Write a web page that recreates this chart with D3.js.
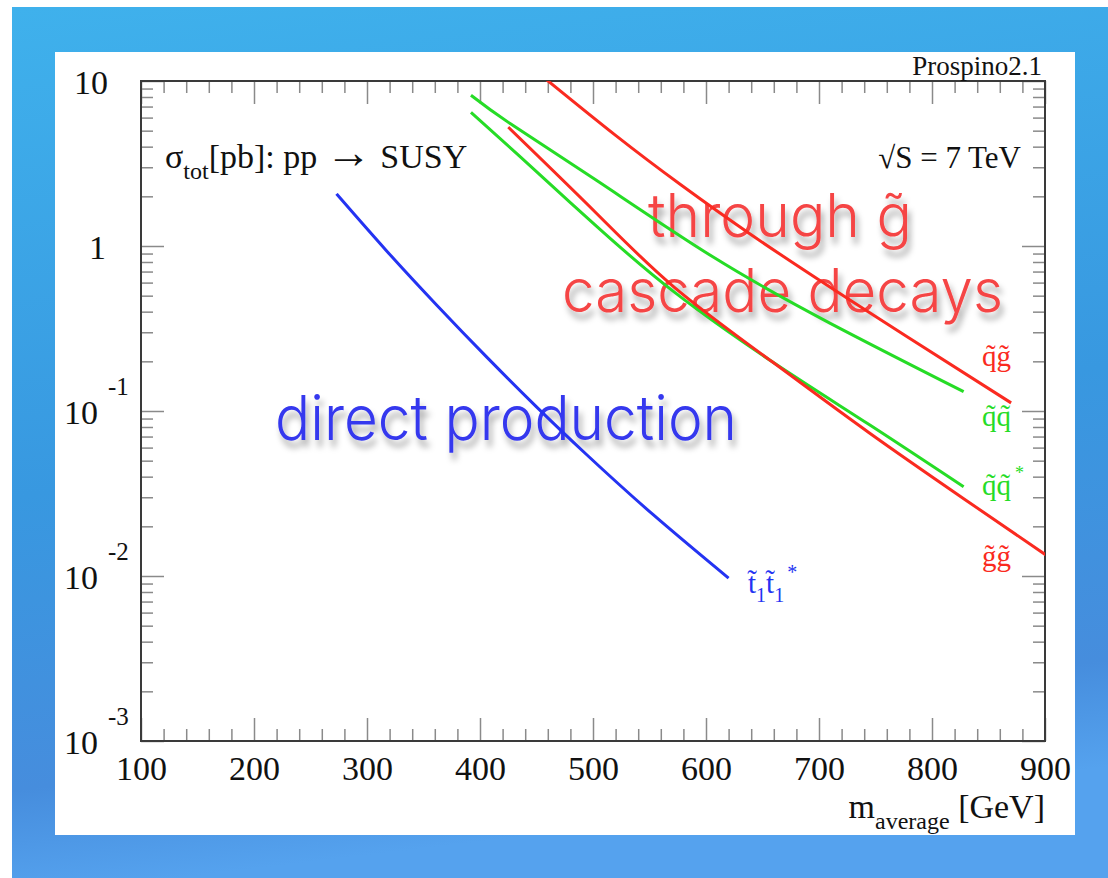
<!DOCTYPE html>
<html>
<head>
<meta charset="utf-8">
<script src="https://cdn.jsdelivr.net/npm/d3@7"></script>
<style>
  html, body { margin: 0; padding: 0; background: #ffffff; }
  svg { display: block; }
</style>
</head>
<body>
<svg id="chart" width="1108" height="878"></svg>
<script>
// ---- data: total SUSY production cross sections at sqrt(S) = 7 TeV ----
// mass in GeV, cross section in pb
const stopMass   = [273, 317, 362, 406, 450, 494, 553, 620];
const stopSigma  = [2.07, 0.94, 0.436, 0.212, 0.106, 0.0547, 0.0236, 0.0097];

const sqglMass   = [455, 520, 578, 640, 710, 778, 870];
const sqglSigma  = [10.7, 4.68, 2.34, 1.17, 0.562, 0.282, 0.112];

const sqsqMass   = [392, 427, 503, 606, 710, 828];
const sqsqSigma  = [8.2, 5.5, 2.5, 0.86, 0.34, 0.131];

const sqasqMass  = [392, 434, 503, 572, 658, 744, 828];
const sqasqSigma = [6.46, 3.55, 1.32, 0.525, 0.20, 0.083, 0.0347];

const glglMass   = [425, 503, 572, 658, 744, 830, 905];
const glglSigma  = [5.25, 1.58, 0.562, 0.20, 0.0741, 0.0288, 0.0128];

const massTicks   = [100, 200, 300, 400, 500, 600, 700, 800, 900];
const sigmaTicks  = [10, 1, 0.1, 0.01, 0.001];
const sigmaBase   = ["10", "1", "10", "10", "10"];
const sigmaExp    = ["", "", "-1", "-2", "-3"];

// ---- layout ----
const svg = d3.select("#chart");
const W = 1108, H = 878;
const plot = { left: 141, top: 81, right: 1045, bottom: 741 };
const serif = "'Liberation Serif', 'Times New Roman', Times, serif";
const sans = "Inter, 'Liberation Sans', Helvetica, Arial, sans-serif";

const colRed = "#fa2a20";
const colGreen = "#26dc26";
const colBlue = "#2433f2";

const defs = svg.append("defs");
const bg = defs.append("linearGradient").attr("id", "bgGrad")
  .attr("x1", 0).attr("y1", 0).attr("x2", 0.15).attr("y2", 1);
bg.append("stop").attr("offset", "0%").attr("stop-color", "#3fb1ec");
bg.append("stop").attr("offset", "55%").attr("stop-color", "#3898e0");
bg.append("stop").attr("offset", "88%").attr("stop-color", "#468ddd");
bg.append("stop").attr("offset", "100%").attr("stop-color", "#55a2ee");

const shadow = defs.append("filter").attr("id", "textShadow")
  .attr("x", "-10%").attr("y", "-30%").attr("width", "130%").attr("height", "170%");
shadow.append("feDropShadow").attr("dx", 3).attr("dy", 7)
  .attr("stdDeviation", 3).attr("flood-color", "#000").attr("flood-opacity", 0.35);

defs.append("clipPath").attr("id", "plotClip").append("rect")
  .attr("x", plot.left).attr("y", plot.top)
  .attr("width", plot.right - plot.left).attr("height", plot.bottom - plot.top);

// slide background and white panel
svg.append("rect").attr("x", 12).attr("y", 7).attr("width", W - 12).attr("height", H - 7)
  .attr("fill", "url(#bgGrad)");
svg.append("rect").attr("x", 55).attr("y", 52).attr("width", 1020).attr("height", 783)
  .attr("fill", "#ffffff");

// ---- scales ----
const x = d3.scaleLinear().domain([100, 900]).range([plot.left, plot.right]);
const y = d3.scaleLog().domain([0.001, 10]).range([plot.bottom, plot.top]);

// ---- axes (ticks inside, mirrored on all four sides) ----
const minorMass = d3.range(100, 901, 20).filter(v => v % 100 !== 0);
const minorSigma = [];
[0.001, 0.01, 0.1, 1].forEach(d => { for (let k = 2; k <= 9; k++) minorSigma.push(d * k); });

const tickColor = "#8a8a8a";
function styleAxis(g) {
  g.select(".domain").remove();
  g.selectAll(".tick line").attr("stroke", tickColor).attr("stroke-width", 1.5);
}

// bottom
svg.append("g").attr("transform", `translate(0,${plot.bottom})`)
  .call(d3.axisBottom(x).tickValues(massTicks).tickSize(-23).tickPadding(15).tickFormat(d3.format("d")))
  .call(styleAxis)
  .call(g => g.selectAll(".tick text").attr("font-family", serif).attr("font-size", 34).attr("fill", "#111"));
svg.append("g").attr("transform", `translate(0,${plot.bottom})`)
  .call(d3.axisBottom(x).tickValues(minorMass).tickSize(-12).tickFormat(""))
  .call(styleAxis);
// top
svg.append("g").attr("transform", `translate(0,${plot.top})`)
  .call(d3.axisTop(x).tickValues(massTicks).tickSize(-23).tickFormat(""))
  .call(styleAxis);
svg.append("g").attr("transform", `translate(0,${plot.top})`)
  .call(d3.axisTop(x).tickValues(minorMass).tickSize(-12).tickFormat(""))
  .call(styleAxis);
// left
svg.append("g").attr("transform", `translate(${plot.left},0)`)
  .call(d3.axisLeft(y).tickValues(sigmaTicks).tickSize(-23).tickFormat(""))
  .call(styleAxis);
svg.append("g").attr("transform", `translate(${plot.left},0)`)
  .call(d3.axisLeft(y).tickValues(minorSigma).tickSize(-12).tickFormat(""))
  .call(styleAxis);
// right
svg.append("g").attr("transform", `translate(${plot.right},0)`)
  .call(d3.axisRight(y).tickValues(sigmaTicks).tickSize(-23).tickFormat(""))
  .call(styleAxis);
svg.append("g").attr("transform", `translate(${plot.right},0)`)
  .call(d3.axisRight(y).tickValues(minorSigma).tickSize(-12).tickFormat(""))
  .call(styleAxis);

// frame
svg.append("rect").attr("x", plot.left).attr("y", plot.top)
  .attr("width", plot.right - plot.left).attr("height", plot.bottom - plot.top)
  .attr("fill", "none").attr("stroke", "#3a3a3a").attr("stroke-width", 2);

// y tick labels: 10, 1, 10^-1, 10^-2, 10^-3
const yLab = svg.append("g").attr("font-family", serif).attr("fill", "#111");
sigmaTicks.forEach((v, i) => {
  const yy = y(v);
  if (sigmaExp[i] === "") {
    yLab.append("text").attr("x", i === 0 ? 108 : 106).attr("y", yy + 13)
      .attr("text-anchor", "end").attr("font-size", 34).text(sigmaBase[i]);
  } else {
    yLab.append("text").attr("x", 98).attr("y", yy + 13)
      .attr("text-anchor", "end").attr("font-size", 34).text(sigmaBase[i]);
    yLab.append("text").attr("x", 108).attr("y", yy - 16)
      .attr("text-anchor", "start").attr("font-size", 25).text(sigmaExp[i]);
  }
});

// x axis title
const xt = svg.append("text").attr("x", 1045).attr("y", 818).attr("text-anchor", "end")
  .attr("font-family", serif).attr("font-size", 34).attr("fill", "#111");
xt.append("tspan").text("m");
xt.append("tspan").attr("font-size", 24).attr("dy", 11).text("average");
xt.append("tspan").attr("dy", -11).text(" [GeV]");

// program tag
svg.append("text").attr("x", 1042).attr("y", 75).attr("text-anchor", "end")
  .attr("font-family", serif).attr("font-size", 27).attr("fill", "#111").text("Prospino2.1");

// process title
const st = svg.append("text").attr("x", 165).attr("y", 168)
  .attr("font-family", serif).attr("font-size", 34).attr("fill", "#111");
st.append("tspan").text("σ");
st.append("tspan").attr("font-size", 24).attr("dy", 11).text("tot");
st.append("tspan").attr("dy", -11).text("[pb]: pp ");
st.append("tspan").attr("font-size", 46).text("→");
st.append("tspan").text(" SUSY");

svg.append("text").attr("x", 1021).attr("y", 168).attr("text-anchor", "end")
  .attr("font-family", serif).attr("font-size", 31).attr("fill", "#111").text("√S = 7 TeV");

// big annotations (drawn under the curves)
const ann = svg.append("g").attr("font-family", sans).attr("font-weight", 300)
  .attr("filter", "url(#textShadow)");
ann.append("text").attr("x", 648).attr("y", 237).attr("font-size", 60)
  .attr("textLength", 264).attr("lengthAdjust", "spacingAndGlyphs")
  .attr("fill", "#f54545").text("through g\u0303");
ann.append("text").attr("x", 562).attr("y", 312).attr("font-size", 60)
  .attr("textLength", 441).attr("lengthAdjust", "spacingAndGlyphs")
  .attr("fill", "#f54545").text("cascade decays");
ann.append("text").attr("x", 275).attr("y", 440).attr("font-size", 62)
  .attr("textLength", 462).attr("lengthAdjust", "spacingAndGlyphs")
  .attr("fill", "#3538ee").text("direct production");

// ---- curves ----
const line = d3.line()
  .x(d => x(d[0]))
  .y(d => y(d[1]))
  .curve(d3.curveNatural);

const series = [
  { mass: stopMass,  sigma: stopSigma,  color: colBlue },
  { mass: sqglMass,  sigma: sqglSigma,  color: colRed },
  { mass: sqsqMass,  sigma: sqsqSigma,  color: colGreen },
  { mass: sqasqMass, sigma: sqasqSigma, color: colGreen },
  { mass: glglMass,  sigma: glglSigma,  color: colRed }
];

const curves = svg.append("g").attr("clip-path", "url(#plotClip)");
series.forEach(s => {
  curves.append("path")
    .datum(s.mass.map((m, i) => [m, s.sigma[i]]))
    .attr("d", line)
    .attr("fill", "none")
    .attr("stroke", s.color)
    .attr("stroke-width", 3);
});

// ---- curve labels ----
const lab = svg.append("g").attr("font-family", serif).attr("font-size", 29);
lab.append("text").attr("x", 982).attr("y", 366).attr("fill", colRed).text("q\u0303g\u0303");
lab.append("text").attr("x", 982).attr("y", 426).attr("fill", colGreen).text("q\u0303q\u0303");
const qqs = lab.append("text").attr("x", 982).attr("y", 495).attr("fill", colGreen);
qqs.append("tspan").text("q\u0303q\u0303");
qqs.append("tspan").attr("font-size", 18).attr("dx", 4).attr("dy", -16).text("*");
lab.append("text").attr("x", 982).attr("y", 566).attr("fill", colRed).text("g\u0303g\u0303");

const tt = lab.append("text").attr("x", 748).attr("y", 593).attr("fill", colBlue);
tt.append("tspan").text("t\u0303");
tt.append("tspan").attr("font-size", 20).attr("dy", 9).text("1");
tt.append("tspan").attr("dy", -9).text("t\u0303");
tt.append("tspan").attr("font-size", 20).attr("dy", 9).text("1");
tt.append("tspan").attr("font-size", 20).attr("dx", 3).attr("dy", -23).text("*");
</script>
</body>
</html>
